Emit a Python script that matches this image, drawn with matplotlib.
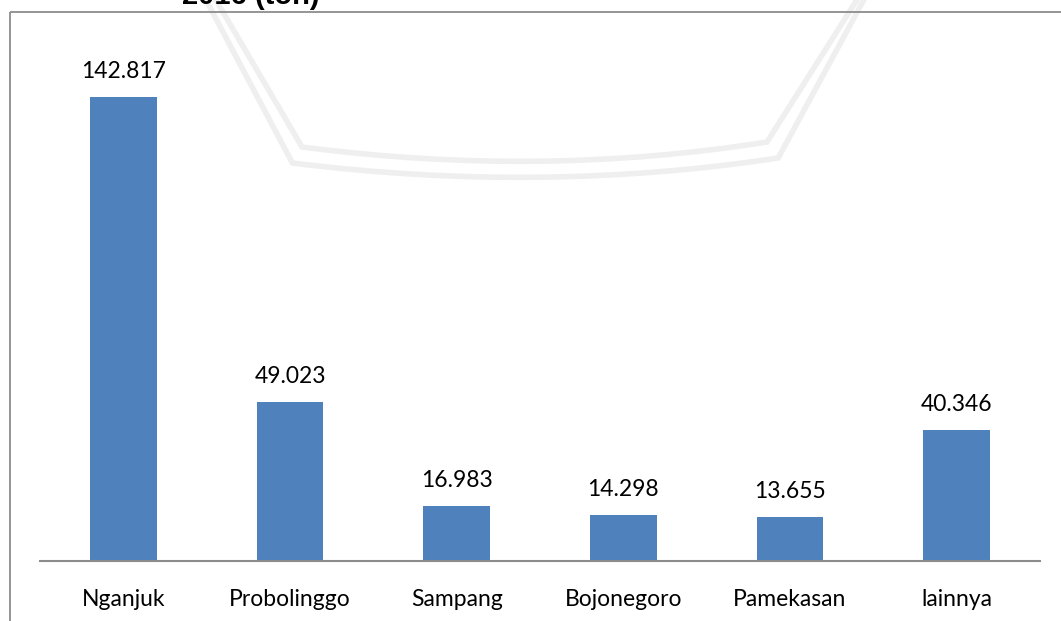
import matplotlib
matplotlib.use("Agg")
import matplotlib.pyplot as plt
from matplotlib.path import Path
from matplotlib.patches import PathPatch, Rectangle
from matplotlib.transforms import Affine2D

# Production by regency, 2016 (ton)
regions = ["Nganjuk", "Probolinggo", "Sampang", "Bojonegoro", "Pamekasan", "lainnya"]
production = [142817, 49023, 16983, 14298, 13655, 40346]
value_labels = ["142.817", "49.023", "16.983", "14.298", "13.655", "40.346"]
title_text = "2016 (ton)"

W, H = 1061, 621
fig = plt.figure(figsize=(W / 100, H / 100), dpi=100)
fig.patch.set_facecolor("white")

# pixel-space transform (origin top-left)
px = Affine2D().scale(1 / W, -1 / H).translate(0, 1) + fig.transFigure

# faint background emblem (double-line shield outline)
def shield(offset):
    o = offset
    verts = [(213 - o * 0.6, -5), (302 - o * 0.6, 147 + o), (540, 178 + o),
             (767 + o * 0.7, 142 + o), (860 + o * 0.4, -5)]
    codes = [Path.MOVETO, Path.LINETO, Path.CURVE3, Path.CURVE3, Path.LINETO]
    return Path(verts, codes)

for off in (0, 16):
    fig.patches.append(PathPatch(shield(off), transform=px, fill=False,
                                 edgecolor="#efefef", lw=4, zorder=0))

# outer frame of the chart area
fig.patches.append(Rectangle((10, 12), 1200, 800, transform=px, fill=False,
                             edgecolor="#8c8c8c", lw=1.3, zorder=1))

# title (upper part falls outside the canvas)
fig.text(182 / W, 1 - 4 / H, title_text, fontsize=21, fontweight="bold",
         family="Liberation Sans", ha="left", va="baseline", color="black")

ax = fig.add_axes([40 / W, (H - 561) / H, 1000 / W, 520 / H])
ax.set_facecolor("none")
x = range(len(regions))
bars = ax.bar(x, production, width=0.4, color="#4f81bd", zorder=2)
ax.set_xlim(-0.5, len(regions) - 0.5)
ax.set_ylim(0, 160000)

for rect, lab in zip(bars, value_labels):
    ax.annotate(lab, (rect.get_x() + rect.get_width() / 2, rect.get_height()),
                xytext=(0, 10.5), textcoords="offset points", ha="center",
                va="bottom", fontsize=16.5, family="Lato", color="black")

ax.set_xticks(list(x))
ax.set_xticklabels(regions, fontsize=16.5, family="Lato")
ax.tick_params(axis="x", length=0, pad=20)
ax.set_yticks([])
for s in ("top", "right", "left"):
    ax.spines[s].set_visible(False)
ax.spines["bottom"].set_color("#8c8c8c")
ax.spines["bottom"].set_linewidth(1.5)

fig.savefig("out.png", dpi=100, facecolor="white")
